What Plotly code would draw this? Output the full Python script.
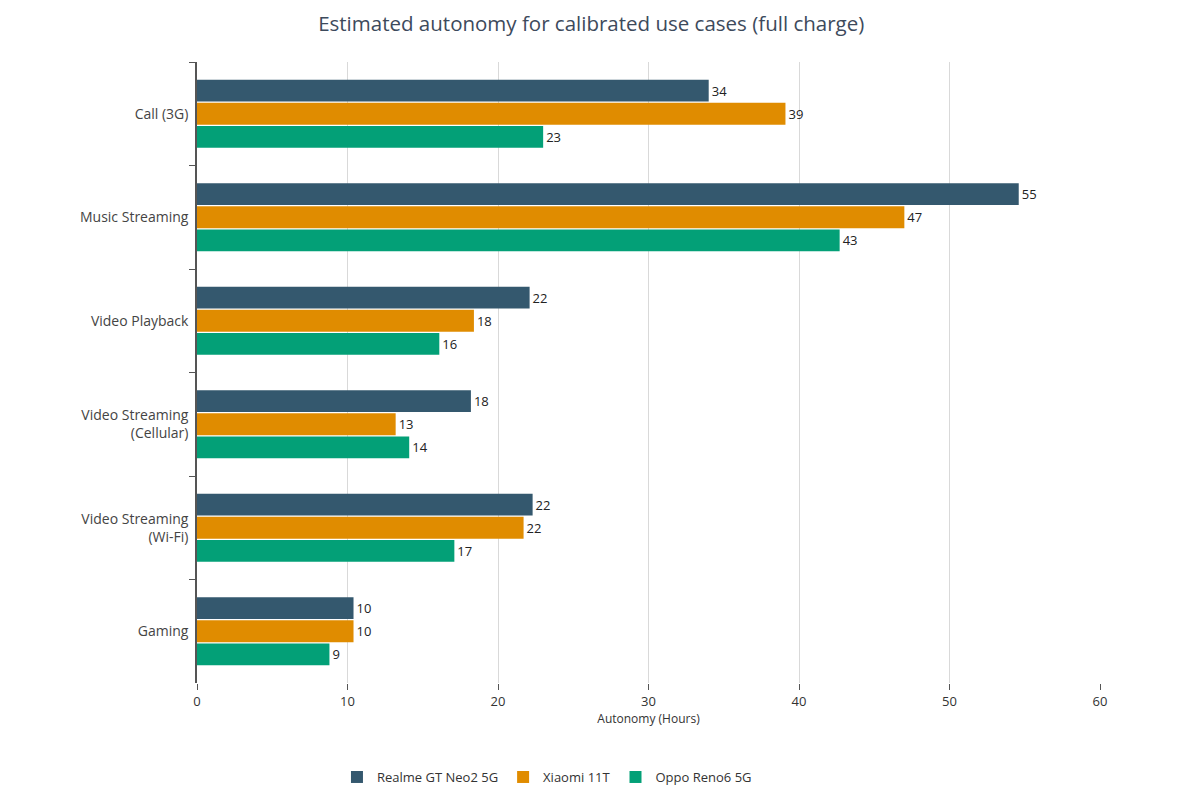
import plotly.graph_objects as go

categories = ["Call (3G)", "Music Streaming", "Video Playback",
              "Video Streaming<br>(Cellular)", "Video Streaming<br>(Wi-Fi)", "Gaming"]
realme = [34.0, 54.6, 22.1, 18.2, 22.3, 10.4]
xiaomi = [39.1, 47.0, 18.4, 13.2, 21.7, 10.4]
oppo = [23.0, 42.7, 16.1, 14.1, 17.1, 8.8]
series_names = ["Realme GT Neo2 5G", "Xiaomi 11T", "Oppo Reno6 5G"]
colors = ["#34586e", "#e08c00", "#03a077"]

fig = go.Figure()
for name, vals, col in zip(series_names, [realme, xiaomi, oppo], colors):
    fig.add_trace(go.Bar(
        y=categories, x=vals, name=name, orientation="h",
        marker=dict(color=col, line=dict(width=0)),
        text=[str(round(v)) for v in vals], textposition="outside",
        textfont=dict(size=13, color="#222", family="Open Sans"),
        cliponaxis=False,
    ))

fig.update_layout(
    width=1200, height=797,
    paper_bgcolor="white", plot_bgcolor="white",
    margin=dict(l=189, r=108, t=54, b=122),
    barmode="group", bargap=0.33, bargroupgap=0.05,
    title=dict(text="Estimated autonomy for calibrated use cases (full charge)",
               x=0.486, xanchor="center", y=0.98, yanchor="middle",
               font=dict(family="Open Sans", size=20.5, color="#3d4a5c")),
    font=dict(family="Open Sans", size=13, color="#444"),
    legend=dict(orientation="h", x=0.155, xanchor="left", y=-0.1514, yanchor="middle",
                font=dict(size=13, color="#333"), traceorder="normal"),
    xaxis=dict(range=[0, 60], dtick=10, showgrid=True, gridcolor="#d9d9d9",
               zeroline=False, showline=False, ticks="outside", ticklen=6,
               tickcolor="#555", tickfont=dict(size=13, color="#333"),
               title=dict(text="Autonomy (Hours)", font=dict(size=12, color="#333"), standoff=0)),
    yaxis=dict(autorange="reversed", showline=True, linecolor="#555", linewidth=1.5,
               ticks="outside", tickson="boundaries", ticklen=6, tickcolor="#555",
               ticklabelstandoff=4,
               tickfont=dict(size=14, color="#444"), showgrid=False),
)

fig.write_html("out.html")
